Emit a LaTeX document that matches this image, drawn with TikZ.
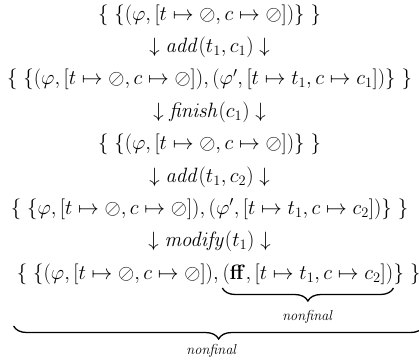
\documentclass[tikz,border=0pt]{standalone}
\usepackage{amsmath}
\usetikzlibrary{decorations.pathreplacing}
\newlength\partwA
\newlength\partwB
\newlength\partwC
\newlength\partwT
\newcommand\bigfnt{\fontsize{20}{24}\selectfont}
\newcommand\lastA{$\{\ \{(\varphi,[t\mapsto\oslash,c\mapsto\oslash]),\,$}
\newcommand\lastB{$(\mathbf{ff},[t\mapsto t_1,c\mapsto c_2])$}
\newcommand\lastC{$\}\ \}$}
\begin{document}
\begin{tikzpicture}[x=1pt,y=-1pt,
  state/.style={anchor=base,inner sep=0pt,font=\bigfnt},
  lab/.style={anchor=base,inner sep=0pt,font=\fontsize{15}{18}\selectfont},
  bracedeco/.style={decorate,decoration={brace,mirror,amplitude=13pt},line width=1.3pt}]
\useasboundingbox (0,0) rectangle (419,360);
\settowidth\partwA{\bigfnt\lastA}
\settowidth\partwB{\bigfnt\lastB}
\settowidth\partwC{\bigfnt\lastC}
\setlength\partwT{\dimexpr\partwA+\partwB+\partwC\relax}
\node[state] (s1) at (209.5,20) {$\{\ \{(\varphi,[t\mapsto\oslash,c\mapsto\oslash])\}\ \}$};
\node[state] (a1) at (209.5,52.4) {$\downarrow\mathit{add}(t_1,c_1)\downarrow$};
\node[state] (s2) at (209.5,84.8) {$\{\ \{(\varphi,[t\mapsto\oslash,c\mapsto\oslash]),(\varphi',[t\mapsto t_1,c\mapsto c_1])\}\ \}$};
\node[state] (a2) at (209.5,117.2) {$\downarrow\mathit{finish}(c_1)\downarrow$};
\node[state] (s3) at (209.5,149.6) {$\{\ \{(\varphi,[t\mapsto\oslash,c\mapsto\oslash])\}\ \}$};
\node[state] (a3) at (209.5,182) {$\downarrow\mathit{add}(t_1,c_2)\downarrow$};
\node[state] (s4) at (209.5,214.4) {$\{\ \{\varphi,[t\mapsto\oslash,c\mapsto\oslash]),(\varphi',[t\mapsto t_1,c\mapsto c_2])\}\ \}$};
\node[state] (a4) at (209.5,246.8) {$\downarrow\mathit{modify}(t_1)\downarrow$};
\coordinate (c9) at (212,279.5);
\node[state,anchor=base west] (s5a) at ([xshift=-0.5\partwT]c9) {\lastA};
\node[state,anchor=base west] (s5b) at (s5a.base east) {\lastB};
\node[state,anchor=base west] (s5c) at (s5b.base east) {\lastC};
\coordinate (yb1) at (0,288);
\coordinate (yl1) at (0,320);
\coordinate (yb2) at (0,326);
\coordinate (yl2) at (0,354);
\draw[bracedeco] (s5b.west |- yb1) -- (s5b.east |- yb1);
\node[lab] (n1) at (s5b.base |- yl1) {$\mathit{nonfinal}$};
\draw[bracedeco] ([xshift=-3pt]s5a.west |- yb2) -- ([xshift=3pt]s5c.east |- yb2);
\node[lab] (n2) at (c9 |- yl2) {$\mathit{nonfinal}$};
\end{tikzpicture}
\end{document}
